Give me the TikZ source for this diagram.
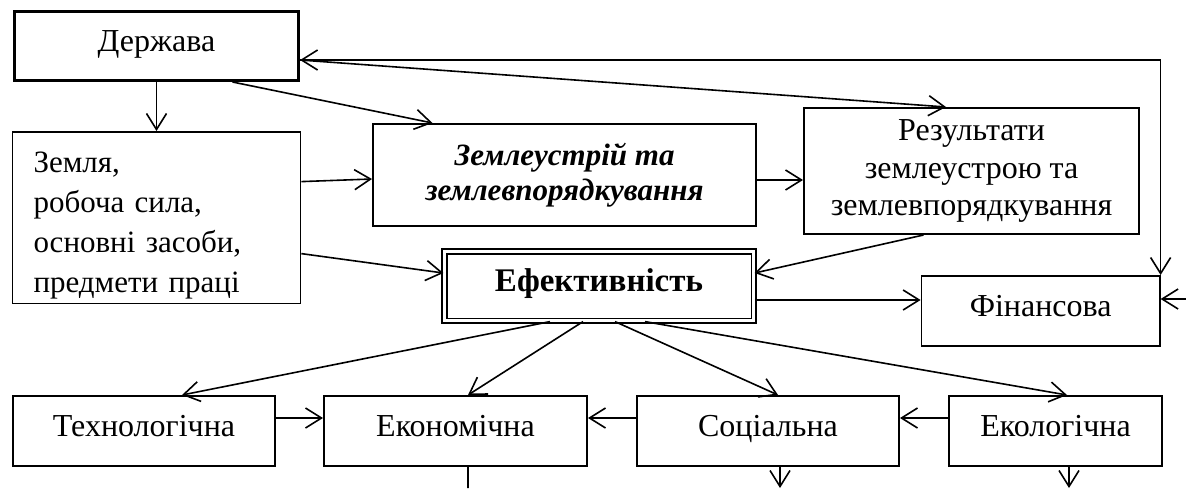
\documentclass[tikz,border=0pt]{standalone}
\usepackage{fontspec}
\setmainfont{Liberation Serif}
\usepackage{tikz}
\usetikzlibrary{arrows.meta, positioning}
\tikzset{box/.style={draw, line width=0.8pt, inner sep=2pt, minimum height=35.2pt, align=center, font=\fontsize{16}{18.75}\selectfont}}
\tikzset{onebox/.style={box, text height=1.45ex, text depth=0.3ex}}
\tikzset{mainbox/.style={onebox, line width=1.6pt}}
\tikzset{effbox/.style={onebox, double, line width=0.9pt, double distance=1.4pt, font=\fontsize{16.5}{18}\selectfont\bfseries}}

\begin{document}
\begin{tikzpicture}[x=0.5pt, y=-0.5pt, >={Straight Barb[length=8pt,width=10pt]}, line width=0.8pt]
\useasboundingbox (0,0) rectangle (1186,488);
\node[mainbox, minimum width=142pt, minimum height=34.4pt] (derzh) at (156.5,46) {Держава};
\node[box, below=24.5pt of derzh, align=left, text width=123pt, inner xsep=10.5pt, minimum height=84pt, font=\fontsize{15.5}{20}\selectfont] (zemlya) {\rule{0pt}{18.5pt}Земля,\\робоча сила,\\основні засоби,\\предмети праці};
\node[box, minimum width=191.7pt, minimum height=51.2pt, font=\fontsize{15.5}{17.5}\selectfont\bfseries\itshape] (zemleustr) at (564.5,175) {Землеустрій та\\землевпорядкування};
\node[box, right=23pt of zemleustr, yshift=2pt, minimum width=167.7pt, minimum height=63.2pt] (rezult) {Результати\\землеустрою та\\землевпорядкування};
\node[effbox, minimum width=154.7pt, minimum height=34.7pt] (efekt) at (599,286) {Ефективність};
\node[onebox, right=83pt of efekt, yshift=-12.5pt, minimum width=119.2pt] (fin) {Фінансова};
\node[onebox, minimum width=131.2pt] (tech) at (144,431) {Технологічна};
\node[onebox, right=23.5pt of tech, minimum width=131.7pt] (econ) {Економічна};
\node[onebox, right=24pt of econ, minimum width=131.2pt] (soc) {Соціальна};
\node[onebox, right=24pt of soc, minimum width=106.7pt] (ecol) {Екологічна};
\coordinate (finin) at (1186,299);
\coordinate (econout) at (468,488);
\coordinate (socout) at (780,488);
\coordinate (ecolout) at (1069,488);
% upper part
\draw[->] (derzh.south) -- (zemlya.north);
\draw[->] ([xshift=38pt]derzh.south) -- ([xshift=-66pt]zemleustr.north);
\draw[<->] ([yshift=-7pt]derzh.east) -| (fin.north east);
\draw[->] ([yshift=-7pt]derzh.east) -- ([xshift=-12.75pt]rezult.north);
\draw[->] ([yshift=18pt]zemlya.east) -- ([yshift=-2pt]zemleustr.west);
\draw[->] ([yshift=-2.5pt]zemleustr.east) -- ([yshift=-4.5pt]rezult.west);
\draw[->] ([yshift=-18pt]zemlya.east) -- ([yshift=6.5pt]efekt.west);
\draw[->] ([xshift=-24pt]rezult.south) -- ([yshift=6.5pt]efekt.east);
\draw[->] ([yshift=-7pt]efekt.east) -- ([yshift=5.5pt]fin.west);
\draw[->] (finin) -- ([yshift=6pt]fin.east);
% lower part
\draw[->] ([xshift=-24.5pt]efekt.south) -- ([xshift=19pt]tech.north);
\draw[->] ([xshift=-8pt]efekt.south) -- ([xshift=6.25pt]econ.north);
\draw[->] ([xshift=8pt]efekt.south) -- ([xshift=5pt]soc.north);
\draw[->] ([xshift=23pt]efekt.south) -- ([xshift=5.75pt]ecol.north);
\draw[->] ([yshift=6.5pt]tech.east) -- ([yshift=6.5pt]econ.west);
\draw[->] ([yshift=6.5pt]soc.west) -- ([yshift=6.5pt]econ.east);
\draw[->] ([yshift=6.5pt]ecol.west) -- ([yshift=6.5pt]soc.east);
\draw ([xshift=6.25pt]econ.south) -- (econout);
\draw[->] ([xshift=6pt]soc.south) -- (socout);
\draw[->] ([xshift=6.75pt]ecol.south) -- (ecolout);
\end{tikzpicture}
\end{document}
